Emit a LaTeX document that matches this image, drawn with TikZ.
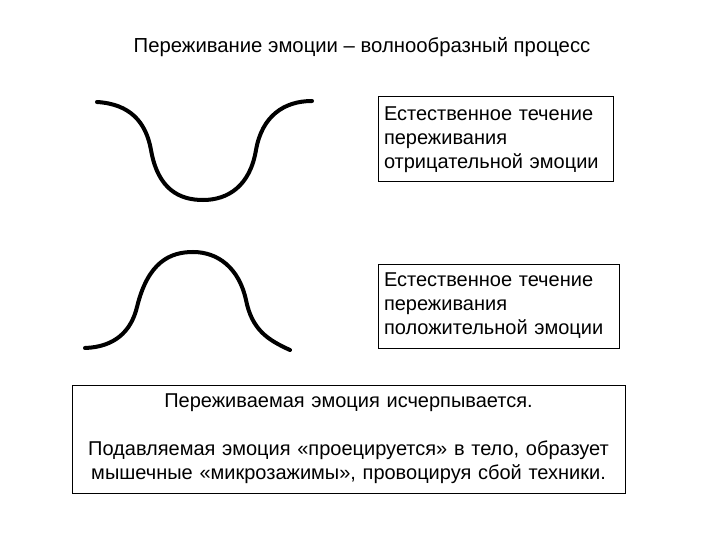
\documentclass[tikz,border=0pt]{standalone}
\usepackage{fontspec}
\setmainfont{Liberation Sans}
\usepackage{tikz}
\usetikzlibrary{positioning}

\begin{document}
\begin{tikzpicture}[x=1pt,y=-1pt,
	wave/.style={line width=4pt,line cap=round},
	note/.style={draw,line width=1pt,font=\fontsize{20}{24}\selectfont,inner xsep=6pt,inner ysep=5pt}]
			\useasboundingbox (0,0) rectangle (720,540);
			\node[font=\fontsize{20.3}{24}\selectfont] (title) at (362,47) {Переживание эмоции -- волнообразный процесс};
			% negative emotion
			\draw[wave] (97,102) .. controls (130,104) and (146,122) .. (151,150) .. controls (158,190) and (180,200) .. (203,200) .. controls (228,200) and (250,186) .. (256,150) .. controls (262,116) and (284,101) .. (312,101);
			\node[note,text width=223pt,align=left,minimum height=85pt] (neg) at (495.5,139.5) {Естественное течение\\переживания\\отрицательной эмоции};
			% positive emotion
			\draw[wave] (85,348) .. controls (114,347) and (131,332) .. (137,307) .. controls (148,262) and (170,252) .. (193,252) .. controls (218,252) and (239,268) .. (246,300) .. controls (252,330) and (268,340) .. (290,350);
			\node[note,text width=229pt,align=left,minimum height=84pt] (pos) at (498.5,306) {Естественное течение\\переживания\\положительной эмоции};
			% result
			\node[note,text width=541pt,align=center,minimum height=108pt] (res) at (348.5,439) {Переживаемая эмоция исчерпывается.\\[24pt]Подавляемая эмоция «проецируется» в тело, образует мышечные «микрозажимы», провоцируя сбой техники.};
		\end{tikzpicture}
\end{document}
